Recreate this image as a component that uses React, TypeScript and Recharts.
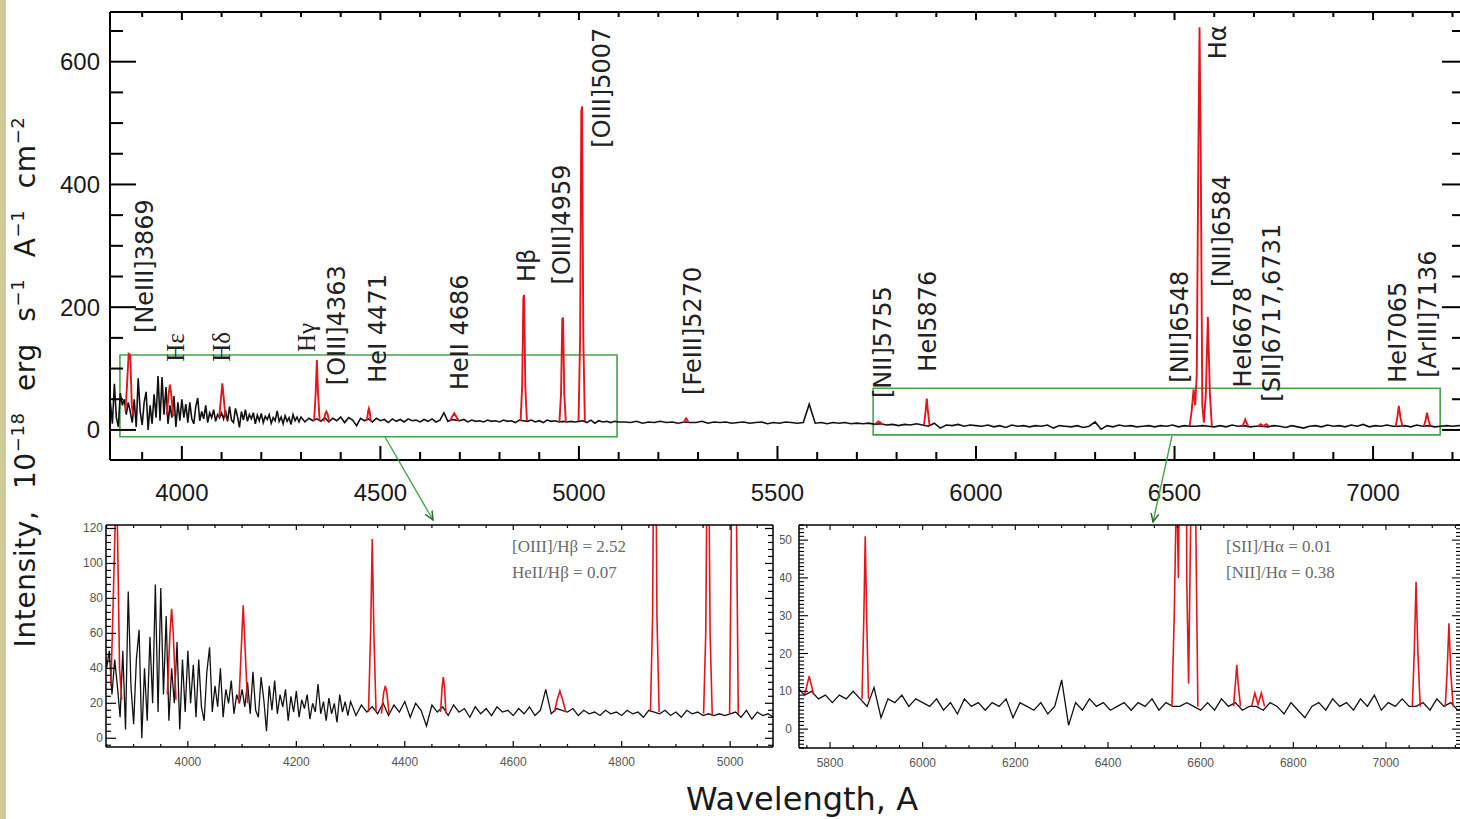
import React from 'react';
import { LineChart, Line, XAxis, YAxis, ReferenceArea, ReferenceDot } from 'recharts';

// continuum on regular wavelength grids (start + i * step)
const NOISY_START = 3820;
const NOISY_STEP = 5;
const noisyFlux = [
  45, 10, 75, 20, 5, 60, 40, 50, 25, 45,
  30, 12, 50, 5, 84, 30, 8, 45, 62, 0,
  40, 10, 58, 20, 88, 15, 86, 25, 70, 10,
  40, 20, 55, 5, 45, 15, 50, 20, 42, 12,
  45, 18, 10, 38, 52, 15, 30, 18, 40, 12,
  28, 20, 33, 14, 25, 20, 28, 18, 32, 14,
  38, 16, 12, 35, 22, 4, 30, 16, 33, 14,
  25, 18, 28, 10, 24, 15, 27, 12, 22, 17,
  25, 11, 20, 15, 31, 14, 21, 10, 23, 14,
  20, 9, 25, 15, 21, 13,
];
const BLUE_START = 4300;
const BLUE_STEP = 10;
const blueFlux = [
  21, 13,
  19, 15, 18, 14, 20, 13, 19, 15, 21, 12,
  20, 16, 7, 19, 15, 18, 13, 19, 15, 17,
  12, 18, 14, 17, 13, 18, 15, 16, 13, 17,
  14, 18, 13, 16, 28, 14, 17, 16, 15, 17,
  13, 16, 14, 15, 13, 16, 14, 15, 13, 16,
  14, 15, 12, 16, 15, 14, 16, 13, 15, 12,
  16, 14, 15, 13, 14, 13, 14, 13, 14, 15,
  12, 16, 11, 15, 13, 14, 12, 14, 13,
];
const RED_START = 5115;
const RED_STEP = 15;
const redFlux = [
  13, 12, 14, 11, 13, 12, 14, 12, 13, 11,
  13, 12, 12, 14, 11, 13, 12, 13, 11, 12,
  13, 11, 12, 13, 10, 12, 11, 13, 12, 11,
  12, 42, 11, 12, 10, 12, 11, 12, 10, 11,
  10, 11, 9, 10, 8, 9, 7, 9, 8, 10,
  8, 6, 11, 3, 8, 7, 9, 6, 8, 7,
  6, 8, 5, 7, 4, 8, 6, 7, 5, 7,
  6, 8, 3, 7, 6, 5, 7, 4, 6, 13,
  1, 7, 5, 8, 6, 7, 5, 6, 7, 5,
  7, 6, 8, 5, 7, 6, 6, 7, 6, 5,
  7, 5, 8, 6, 7, 5, 6, 6, 5, 7,
  6, 4, 7, 5, 3, 6, 7, 5, 8, 6,
  7, 5, 8, 6, 9, 5, 7, 6, 8, 6,
  6, 7, 5, 8, 6, 7, 5, 6, 7, 6,
  7, 6,
];

// emission line profiles [wavelength, flux]
const emissionLines: [number, number][][] = [
  [[3858, 30], [3862, 75], [3866, 124], [3870, 122], [3874, 40], [3878, 22]],
  [[3962, 25], [3967, 60], [3970, 74], [3973, 60], [3978, 22]],
  [[4094, 20], [4099, 55], [4102, 76], [4105, 55], [4110, 20]],
  [[4333, 15], [4337, 60], [4340, 114], [4343, 60], [4347, 15]],
  [[4357, 14], [4361, 26], [4364, 30], [4367, 26], [4371, 14]],
  [[4466, 15], [4469, 30], [4471, 35], [4473, 30], [4476, 14]],
  [[4676, 15], [4681, 22], [4686, 27], [4691, 22], [4697, 15]],
  [[4853, 15], [4857, 70], [4860, 215], [4862, 220], [4865, 70], [4869, 15]],
  [[4951, 14], [4955, 60], [4958, 180], [4960, 183], [4963, 60], [4967, 13]],
  [[4999, 14], [5003, 150], [5006, 520], [5008, 527], [5011, 150], [5015, 14]],
  [[5264, 12], [5268, 17], [5270, 19], [5272, 17], [5276, 12]],
  [[5745, 9], [5751, 12], [5755, 14], [5759, 12], [5765, 9]],
  [[5869, 8], [5873, 30], [5876, 51], [5879, 30], [5883, 8]],
  [[6538, 6], [6543, 30], [6548, 66], [6552, 40], [6556, 90], [6560, 450], [6563, 656],
   [6566, 450], [6570, 40], [6574, 12], [6579, 60], [6584, 184], [6589, 60], [6594, 6]],
  [[6671, 6], [6675, 12], [6678, 17], [6681, 12], [6686, 6]],
  [[6710, 6], [6717, 9.5], [6724, 6.5], [6731, 9.5], [6738, 6]],
  [[7057, 6], [7061, 20], [7065, 39], [7069, 20], [7074, 6]],
  [[7128, 6], [7132, 15], [7136, 28], [7140, 15], [7145, 6]],
];

// line identifications: label centre-bottom in data units
const lineLabels = [
  { text: '[NeIII]3869', w: 3907, y: 158 },
  { text: 'Hε', w: 3983, y: 111, serif: true },
  { text: 'Hδ', w: 4101, y: 111, serif: true },
  { text: 'Hγ', w: 4315, y: 127, serif: true },
  { text: '[OIII]4363', w: 4391, y: 73 },
  { text: 'HeI 4471', w: 4494, y: 77 },
  { text: 'HeII 4686', w: 4701, y: 65 },
  { text: 'Hβ', w: 4869, y: 241 },
  { text: '[OIII]4959', w: 4958, y: 237 },
  { text: '[OIII]5007', w: 5058, y: 460 },
  { text: '[FeIII]5270', w: 5288, y: 57 },
  { text: '[NII]5755', w: 5766, y: 52 },
  { text: 'HeI5876', w: 5880, y: 95 },
  { text: '[NII]6548', w: 6514, y: 77 },
  { text: 'Hα', w: 6610, y: 604 },
  { text: '[NII]6584', w: 6620, y: 233 },
  { text: 'HeI6678', w: 6673, y: 69 },
  { text: '[SII]6717,6731', w: 6746, y: 46 },
  { text: 'HeI7065', w: 7063, y: 77 },
  { text: '[ArIII]7136', w: 7139, y: 85 },
];

const mainXMajor = [4000, 4500, 5000, 5500, 6000, 6500, 7000];
const mainYMajor = [0, 200, 400, 600];
const blueXMajor = [4000, 4200, 4400, 4600, 4800, 5000];
const blueYMajor = [0, 20, 40, 60, 80, 100, 120];
const redXMajor = [5800, 6000, 6200, 6400, 6600, 6800, 7000];
const redYMajor = [0, 10, 20, 30, 40, 50];

const ratiosBlue = ['[OIII]/Hβ = 2.52', 'HeII/Hβ = 0.07'];
const ratiosRed = ['[SII]/Hα = 0.01', '[NII]/Hα = 0.38'];

const MAIN_X: [number, number] = [3819, 7224];
const MAIN_Y: [number, number] = [-49, 681];
const BLUE_X: [number, number] = [3849, 5079];
const BLUE_Y: [number, number] = [-5, 122];
const RED_X: [number, number] = [5733, 7162];
const RED_Y: [number, number] = [-5, 54];

const range = (a: number, b: number, s: number) => {
  const out: number[] = [];
  for (let v = a; v <= b; v += s) out.push(v);
  return out;
};

const continuum = [
  ...noisyFlux.map((f, i) => ({ w: NOISY_START + i * NOISY_STEP, f })),
  ...blueFlux.map((f, i) => ({ w: BLUE_START + i * BLUE_STEP, f })),
  ...redFlux.map((f, i) => ({ w: RED_START + i * RED_STEP, f })),
];

const emission: { w: number; f: number | null }[] = [];
emissionLines.forEach((prof) => {
  prof.forEach(([w, f]) => emission.push({ w, f }));
  emission.push({ w: prof[prof.length - 1][0] + 1, f: null });
});

const RED = '#e3161b';
const GREEN = '#45a449';

type LabelOpt = { size: number; color: string; gap: number; family: string };

function axisTick(side: string, majors: number[], majorLen: number, minorLen: number, sw: number, label?: LabelOpt) {
  return (props: any) => {
    const { x, y, payload } = props;
    const v = payload.value;
    const big = majors.includes(v);
    const len = big ? majorLen : minorLen;
    let x2 = x;
    let y2 = y;
    if (side === 'bottom') y2 = y - len;
    if (side === 'top') y2 = y + len;
    if (side === 'left') x2 = x + len;
    if (side === 'right') x2 = x - len;
    let txt = null;
    if (label && big) {
      txt = side === 'bottom' ? (
        <text x={x} y={y + label.gap} textAnchor="middle" dominantBaseline="central"
          fontSize={label.size} fill={label.color} fontFamily={label.family}>{v}</text>
      ) : (
        <text x={x - label.gap} y={y} textAnchor="end" dominantBaseline="central"
          fontSize={label.size} fill={label.color} fontFamily={label.family}>{v}</text>
      );
    }
    return (
      <g>
        <line x1={x} y1={y} x2={x2} y2={y2} stroke="#000" strokeWidth={sw} />
        {txt}
      </g>
    );
  };
}

const mainLabel: LabelOpt = { size: 24, color: '#1a1a1a', gap: 32, family: '"Liberation Sans", Arial, sans-serif' };
const mainYLabel: LabelOpt = { ...mainLabel, gap: 10 };
const insetLabel: LabelOpt = { size: 12, color: '#555', gap: 15, family: '"Liberation Sans", Arial, sans-serif' };

const frame = { stroke: '#000', strokeWidth: 2 };
const thinFrame = { stroke: '#000', strokeWidth: 1.5 };

function LabelShape(props: any) {
  const { cx, cy, text, serif } = props;
  return (
    <text x={cx} y={cy} transform={`rotate(-90 ${cx} ${cy})`} textAnchor="start" dominantBaseline="central"
      fontSize={serif ? 25 : 24} fill="#222"
      fontFamily={serif ? '"Liberation Serif", serif' : '"DejaVu Sans", sans-serif'}>
      {text}
    </text>
  );
}

function Panel(p: {
  width: number; height: number; margin: { top: number; right: number; bottom: number; left: number };
  xd: [number, number]; yd: [number, number];
  xMajor: number[]; xMinor: number; yMajor: number[]; yMinor: number;
  yw: number; xh: number; big?: boolean; children?: React.ReactNode;
  lens: { b: number[]; t: number[]; l: number[]; r: number[] };
  xl: LabelOpt; yl: LabelOpt; sw: number; lw: number;
}) {
  const xt = range(Math.ceil(p.xd[0] / p.xMinor) * p.xMinor, p.xd[1], p.xMinor);
  const yt = range(Math.ceil(p.yd[0] / p.yMinor) * p.yMinor, p.yd[1], p.yMinor);
  const fr = p.big ? frame : thinFrame;
  // top / right axes take 1px of space so they get drawn
  const m = { ...p.margin, top: p.margin.top - 1, right: p.margin.right - 1 };
  return (
    <LineChart width={p.width} height={p.height} margin={m}>
      <XAxis xAxisId="b" dataKey="w" type="number" domain={p.xd} allowDataOverflow ticks={xt} interval={0}
        height={p.xh} tickSize={0} tickMargin={0} tickLine={false} axisLine={fr}
        tick={axisTick('bottom', p.xMajor, p.lens.b[0], p.lens.b[1], p.sw, p.xl)} />
      <XAxis xAxisId="t" orientation="top" dataKey="w" type="number" domain={p.xd} allowDataOverflow ticks={xt} interval={0}
        height={1} tickSize={0} tickMargin={0} tickLine={false} axisLine={fr}
        tick={axisTick('top', p.xMajor, p.lens.t[0], p.lens.t[1], p.sw)} />
      <YAxis yAxisId="l" type="number" domain={p.yd} allowDataOverflow ticks={yt} interval={0}
        width={p.yw} tickSize={0} tickMargin={0} tickLine={false} axisLine={fr}
        tick={axisTick('left', p.yMajor, p.lens.l[0], p.lens.l[1], p.sw, p.yl)} />
      <YAxis yAxisId="r" orientation="right" type="number" domain={p.yd} allowDataOverflow ticks={yt} interval={0}
        width={1} tickSize={0} tickMargin={0} tickLine={false} axisLine={fr}
        tick={axisTick('right', p.yMajor, p.lens.r[0], p.lens.r[1], p.sw)} />
      {p.children}
      <Line xAxisId="b" yAxisId="l" data={continuum} dataKey="f" type="linear" stroke="#111"
        strokeWidth={p.lw} dot={false} isAnimationActive={false} />
      <Line xAxisId="t" yAxisId="r" data={emission} dataKey="f" type="linear" stroke={RED}
        strokeWidth={p.lw + 0.3} dot={false} isAnimationActive={false} connectNulls={false} />
    </LineChart>
  );
}

const supStyle = { fontSize: 18, verticalAlign: 11 };

export default function App() {
  return (
    <div style={{ position: 'absolute', left: 0, top: 0, width: 1460, height: 819, overflow: 'hidden', background: '#fff' }}>
      <div style={{ position: 'absolute', left: 0, top: 0, width: 6, height: 819, background: '#cdc99b' }} />

      <div style={{ position: 'absolute', left: 0, top: 0 }}>
        <Panel width={1480} height={520} margin={{ top: 12, right: 18, bottom: 0, left: 0 }}
          xd={MAIN_X} yd={MAIN_Y} xMajor={mainXMajor} xMinor={100} yMajor={mainYMajor} yMinor={50}
          yw={110} xh={60} big lens={{ b: [14, 8], t: [8, 5], l: [26, 13], r: [20, 10] }}
          xl={mainLabel} yl={mainYLabel} sw={2} lw={1.6}>
          <ReferenceArea xAxisId="b" yAxisId="l" x1={3844} x2={5096} y1={-11} y2={122}
            fill="none" stroke={GREEN} strokeWidth={1.6} ifOverflow="visible" />
          <ReferenceArea xAxisId="b" yAxisId="l" x1={5741} x2={7169} y1={-8} y2={68}
            fill="none" stroke={GREEN} strokeWidth={1.6} ifOverflow="visible" />
          {lineLabels.map((l) => (
            <ReferenceDot key={l.text} xAxisId="b" yAxisId="l" x={l.w} y={l.y} r={0} ifOverflow="visible"
              shape={(pr: any) => <LabelShape {...pr} text={l.text} serif={l.serif} />} />
          ))}
        </Panel>
      </div>

      <div style={{ position: 'absolute', left: 0, top: 500 }}>
        <Panel width={780} height={270} margin={{ top: 25, right: 7, bottom: 0, left: 0 }}
          xd={BLUE_X} yd={BLUE_Y} xMajor={blueXMajor} xMinor={50} yMajor={blueYMajor} yMinor={4}
          yw={106} xh={23} lens={{ b: [6, 3], t: [5, 3], l: [10, 5], r: [8, 5] }}
          xl={insetLabel} yl={{ ...insetLabel, gap: 3 }} sw={1.2} lw={1.3} />
      </div>

      <div style={{ position: 'absolute', left: 780, top: 500 }}>
        <Panel width={682} height={270} margin={{ top: 25, right: 1, bottom: 0, left: 0 }}
          xd={RED_X} yd={RED_Y} xMajor={redXMajor} xMinor={50} yMajor={redYMajor} yMinor={1}
          yw={19} xh={22} lens={{ b: [6, 3], t: [5, 3], l: [9, 5], r: [9, 5] }}
          xl={insetLabel} yl={{ ...insetLabel, gap: 7 }} sw={1.1} lw={1.3} />
      </div>

      <svg width={1460} height={819} style={{ position: 'absolute', left: 0, top: 0, pointerEvents: 'none' }}>
        <defs>
          <marker id="arr" viewBox="0 0 10 10" refX="9" refY="5" markerWidth="7" markerHeight="7" orient="auto">
            <path d="M0,1 L9,5 L0,9" fill="none" stroke="#2a6b2a" strokeWidth={1.5} />
          </marker>
        </defs>
        <line x1={385} y1={437} x2={433} y2={520} stroke={GREEN} strokeWidth={1.4} markerEnd="url(#arr)" />
        <line x1={1172} y1={436} x2={1153} y2={522} stroke={GREEN} strokeWidth={1.4} markerEnd="url(#arr)" />
        {ratiosBlue.map((t, i) => (
          <text key={t} x={512} y={552 + i * 26} fontSize={17} fill="#6a6a6a" fontFamily='"Liberation Serif", serif'>{t}</text>
        ))}
        {ratiosRed.map((t, i) => (
          <text key={t} x={1226} y={552 + i * 26} fontSize={17} fill="#6a6a6a" fontFamily='"Liberation Serif", serif'>{t}</text>
        ))}
        <text x={802} y={810} textAnchor="middle" fontSize={32} fill="#1a1a1a" fontFamily='"DejaVu Sans", sans-serif'>
          Wavelength, A
        </text>
      </svg>

      <div style={{
        position: 'absolute', left: 24, top: 382, transform: 'translate(-50%, -50%) rotate(-90deg)',
        whiteSpace: 'nowrap', fontFamily: '"DejaVu Sans", sans-serif', fontSize: 28, color: '#1a1a1a',
        letterSpacing: 0.6, wordSpacing: 12, lineHeight: 1,
      }}>
        Intensity, 10<sup style={supStyle}>−18</sup> erg s<sup style={supStyle}>−1</sup> A<sup style={supStyle}>−1</sup> cm<sup style={supStyle}>−2</sup>
      </div>
    </div>
  );
}
